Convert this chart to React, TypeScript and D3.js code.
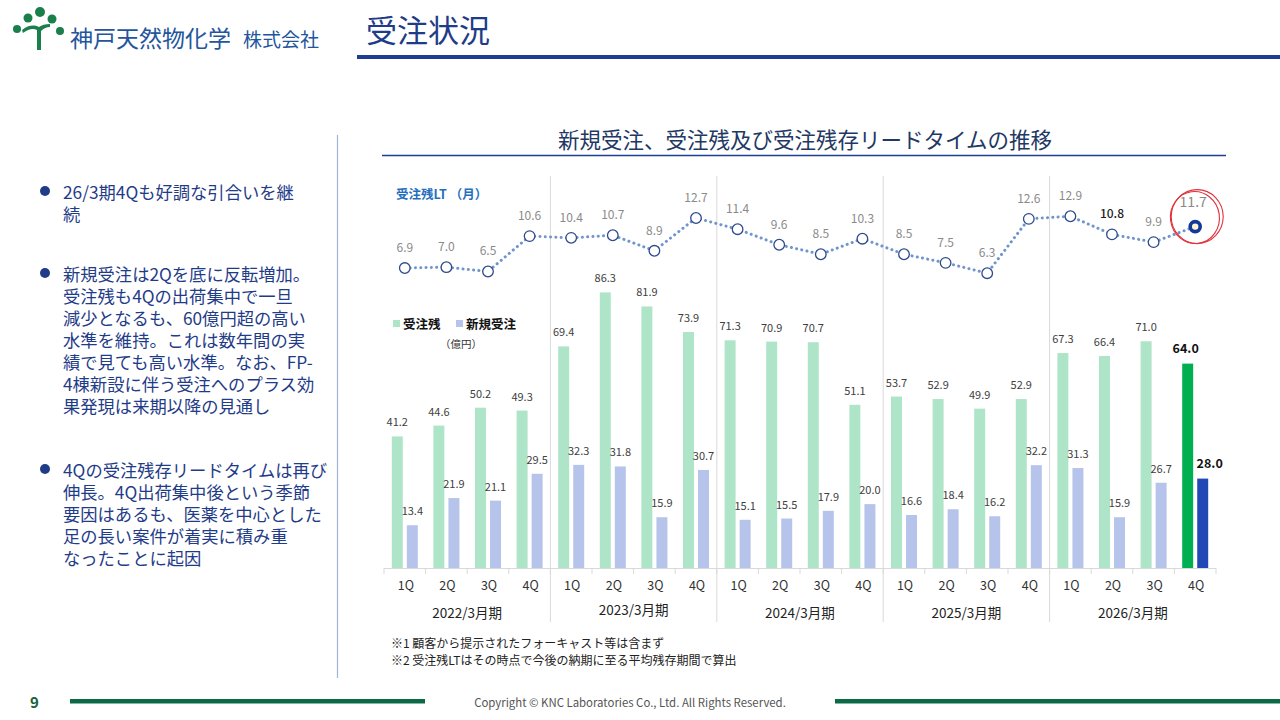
import * as d3 from "d3";

const years = ["2022/3月期", "2023/3月期", "2024/3月期", "2025/3月期", "2026/3月期"];
const quarters = ["1Q", "2Q", "3Q", "4Q"];

// 受注残 (億円)
const backlog = [41.2, 44.6, 50.2, 49.3, 69.4, 86.3, 81.9, 73.9, 71.3, 70.9, 70.7, 51.1, 53.7, 52.9, 49.9, 52.9, 67.3, 66.4, 71.0, 64.0];
// 新規受注 (億円)
const newOrders = [13.4, 21.9, 21.1, 29.5, 32.3, 31.8, 15.9, 30.7, 15.1, 15.5, 17.9, 20.0, 16.6, 18.4, 16.2, 32.2, 31.3, 15.9, 26.7, 28.0];
// 受注残LT (月)
const leadTime = [6.9, 7.0, 6.5, 10.6, 10.4, 10.7, 8.9, 12.7, 11.4, 9.6, 8.5, 10.3, 8.5, 7.5, 6.3, 12.6, 12.9, 10.8, 9.9, 11.7];

const bulletLines = [
  ["26/3期4Qも好調な引合いを継", "続"],
  [
    "新規受注は2Qを底に反転増加。",
    "受注残も4Qの出荷集中で一旦",
    "減少となるも、60億円超の高い",
    "水準を維持。これは数年間の実",
    "績で見ても高い水準。なお、FP-",
    "4棟新設に伴う受注へのプラス効",
    "果発現は来期以降の見通し",
  ],
  [
    "4Qの受注残存リードタイムは再び",
    "伸長。4Q出荷集中後という季節",
    "要因はあるも、医薬を中心とした",
    "足の長い案件が着実に積み重",
    "なったことに起因",
  ],
];

const notes = [
  "※1  顧客から提示されたフォーキャスト等は含まず",
  "※2  受注残LTはその時点で今後の納期に至る平均残存期間で算出",
];

const FONT = "'Noto Sans CJK JP', 'Noto Sans', sans-serif";
const NAVY = "#1f3c88";

const periods = years.flatMap((y) => quarters.map((q) => `${y}|${q}`));
const last = periods.length - 1;

export default function App() {
  const x = d3.scaleBand<string>().domain(periods).range([384, 1216]).padding(0);
  const step = x.bandwidth();
  const sub = d3
    .scaleBand<string>()
    .domain(["backlog", "new"])
    .range([0, 26])
    .paddingInner(0.27);
  const subOff = (step - 26) / 2;

  const yBar = d3.scaleLinear().domain([0, 90]).range([568, 280.6]);
  const yLt = d3.scaleLinear().domain([6, 13]).range([275.8, 215.4]);

  const cx = (i: number) => x(periods[i])! + step / 2;

  const ltLine = d3
    .line<number>()
    .x((_, i) => cx(i))
    .y((d) => yLt(d));

  const bulletStarts = [192, 274, 470];

  return (
    <div style={{ position: "fixed", left: 0, top: 0 }}>
      <svg width={1280} height={720} style={{ display: "block", background: "#fff", fontFamily: FONT }}>
        {/* logo */}
        <g fill="#1a7f4b">
          <circle cx={17} cy={29} r={4} />
          <circle cx={28} cy={18} r={4.5} />
          <circle cx={40} cy={12} r={5} />
          <circle cx={52} cy={19} r={4.5} />
          <circle cx={60} cy={31} r={4} />
          <path d="M23,33 Q31,27 37,30 L37,50 L41,50 L41,31 Q45,27 50,27 L50,24 Q43,24 39,27 Q31,23 22,30 Z" />
        </g>
        <text x={70} y={47} fontSize={23} fill="#24559c">神戸天然物化学</text>
        <text x={243} y={47} fontSize={19} fill="#24559c">株式会社</text>

        {/* page title */}
        <text x={366} y={42} fontSize={31} fill="#1f3c88">受注状況</text>
        <rect x={357} y={55} width={923} height={4} fill="#1e3f91" />

        {/* left divider */}
        <line x1={337.5} x2={337.5} y1={135} y2={678} stroke="#9fb2d9" strokeWidth={1.2} />

        {/* bullets */}
        {bulletLines.map((lines, bi) => (
          <g key={bi}>
            <circle cx={45} cy={bulletStarts[bi] - 1} r={5} fill={NAVY} />
            <text x={63} y={bulletStarts[bi] + 6.5} fontSize={17.3} fill={NAVY}>
              {lines.map((l, li) => (
                <tspan key={li} x={63} dy={li === 0 ? 0 : 22}>
                  {l}
                </tspan>
              ))}
            </text>
          </g>
        ))}

        {/* chart title */}
        <text x={805} y={148} fontSize={21.5} textAnchor="middle" fill="#1f3864">
          新規受注、受注残及び受注残存リードタイムの推移
        </text>
        <line x1={382} x2={1226} y1={155.5} y2={155.5} stroke="#1e3f91" strokeWidth={1.5} />

        {/* year separators */}
        {years.slice(1).map((y, i) => {
          const bx = x(periods[(i + 1) * 4])!;
          return <line key={y} x1={bx} x2={bx} y1={176} y2={622} stroke="#d9d9d9" strokeWidth={1} />;
        })}

        {/* axis */}
        <line x1={384} x2={1216} y1={568.5} y2={568.5} stroke="#d9d9d9" strokeWidth={1} />
        {periods.map((p) => (
          <line key={p} x1={x(p)!} x2={x(p)!} y1={568} y2={574} stroke="#d9d9d9" />
        ))}
        <line x1={1216} x2={1216} y1={568} y2={574} stroke="#d9d9d9" />

        {/* bars */}
        {periods.map((p, i) => {
          const bx = x(p)! + subOff;
          const gx = bx + sub("backlog")!;
          const nx = bx + sub("new")!;
          const w = sub.bandwidth();
          const hi = i === last;
          return (
            <g key={p}>
              <rect x={gx} y={yBar(backlog[i])} width={w} height={568 - yBar(backlog[i])} fill={hi ? "#00b050" : "#aee4c7"} />
              <rect x={nx} y={yBar(newOrders[i])} width={w} height={568 - yBar(newOrders[i])} fill={hi ? "#2148b5" : "#b6c4ec"} />
              <text
                x={gx + w / 2 + (hi ? -2 : 0)}
                y={yBar(backlog[i]) - (hi ? 11 : 10)}
                textAnchor="middle"
                fontSize={hi ? 12.5 : 11}
                fontWeight={hi ? 700 : 400}
                fill={hi ? "#111" : "#404040"}
              >
                {backlog[i].toFixed(1)}
              </text>
              <text
                x={nx + w / 2 + (hi ? 7 : 0)}
                y={yBar(newOrders[i]) - (hi ? 11 : 10)}
                textAnchor="middle"
                fontSize={hi ? 12.5 : 11}
                fontWeight={hi ? 700 : 400}
                fill={hi ? "#111" : "#404040"}
              >
                {newOrders[i].toFixed(1)}
              </text>
            </g>
          );
        })}

        {/* quarter labels */}
        {periods.map((p) => (
          <text key={p} x={x(p)! + step / 2 + 1} y={590} textAnchor="middle" fontSize={12.5} fill="#333">
            {p.split("|")[1]}
          </text>
        ))}
        {years.map((y, i) => {
          const mid = (x(periods[i * 4])! + x(periods[i * 4 + 3])! + step) / 2;
          return (
            <text key={y} x={mid} y={i === 1 ? 615 : 618} textAnchor="middle" fontSize={13.5} fill="#222">
              {y}
            </text>
          );
        })}

        {/* legend */}
        <rect x={393} y={320} width={7} height={7} fill="#aee4c7" />
        <text x={403} y={329} fontSize={12.5} fontWeight={700} fill="#111">受注残</text>
        <rect x={456} y={320} width={7} height={7} fill="#b6c4ec" />
        <text x={466} y={329} fontSize={12.5} fontWeight={700} fill="#111">新規受注</text>
        <text x={440} y={348} fontSize={10.5} fill="#333">（億円）</text>

        {/* lead time line */}
        <text x={396} y={199} fontSize={12.5} fontWeight={700} fill="#1f6fc0">受注残LT （月）</text>
        <path
          d={ltLine(leadTime) ?? ""}
          fill="none"
          stroke="#6f95cc"
          strokeWidth={3}
          strokeDasharray="0.1 5.2"
          strokeLinecap="round"
        />
        {leadTime.map((v, i) => {
          const hi = i === last;
          return (
            <g key={i}>
              <circle
                cx={cx(i)}
                cy={yLt(v)}
                r={hi ? 5 : 5.3}
                fill={hi ? "#fff6cf" : "#fff"}
                stroke={hi ? "#12389a" : "#2e4a8c"}
                strokeWidth={hi ? 3.6 : 1.3}
              />
              <text
                x={cx(i) + (hi ? -2 : 0)}
                y={yLt(v) - (hi ? 20 : 16)}
                textAnchor="middle"
                fontSize={hi ? 14 : 12}
                fontWeight={i === 17 ? 500 : 400}
                fill={i === 17 ? "#222" : "#8a8a8a"}
              >
                {v.toFixed(1)}
              </text>
            </g>
          );
        })}
        {/* red highlight ring */}
        <ellipse cx={cx(last) + 2} cy={yLt(leadTime[last]) - 10} rx={26} ry={27} fill="none" stroke="#e0313b" strokeWidth={1.1} />
        <ellipse cx={cx(last) + 1} cy={yLt(leadTime[last]) - 9} rx={24.5} ry={26} fill="none" stroke="#e0313b" strokeWidth={1.1} transform={`rotate(-8 ${cx(last)} ${yLt(leadTime[last])})`} />

        {/* notes */}
        {notes.map((n, i) => (
          <text key={i} x={391} y={648 + i * 17} fontSize={12} fill="#222">
            {n}
          </text>
        ))}

        {/* footer */}
        <text x={30} y={708} fontSize={15} fontWeight={700} fill="#1d5f3f">9</text>
        <rect x={70} y={699} width={355} height={4.5} fill="#0c6a46" />
        <rect x={835} y={699} width={445} height={4.5} fill="#0c6a46" />
        <text x={630} y={707} fontSize={11.4} textAnchor="middle" fill="#555">
          Copyright © KNC Laboratories Co., Ltd. All Rights Reserved.
        </text>
      </svg>
    </div>
  );
}
